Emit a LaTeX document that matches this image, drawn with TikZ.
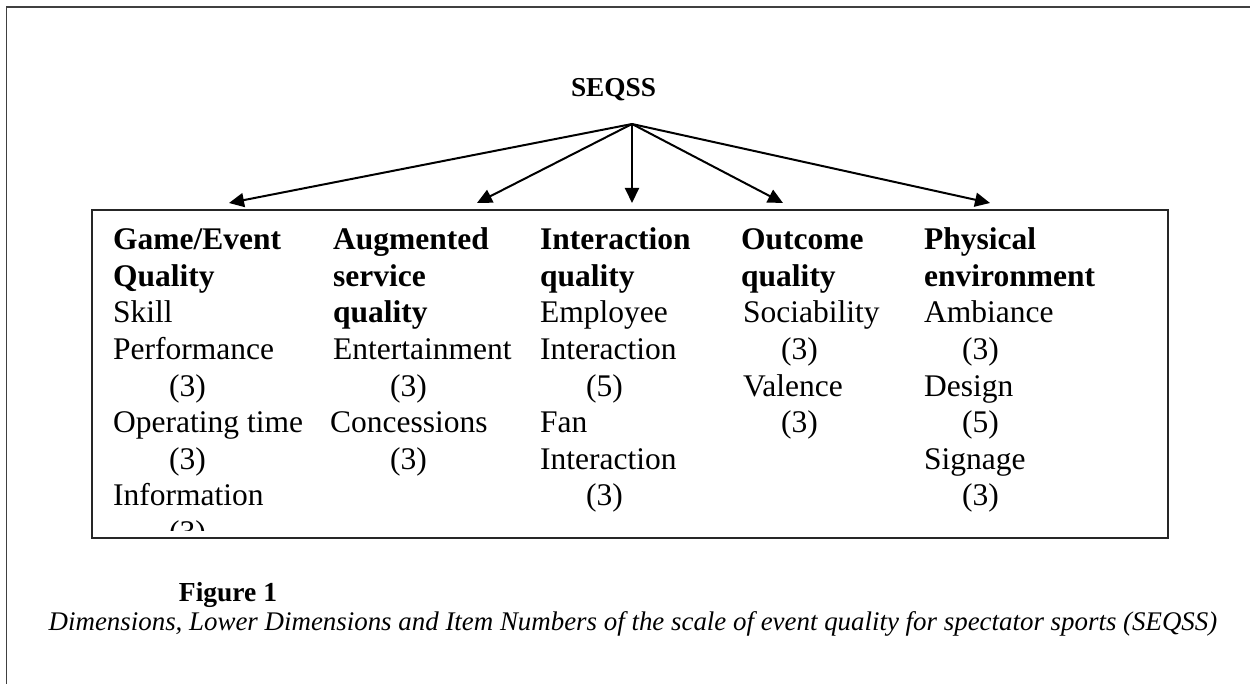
\documentclass[tikz,border=0pt]{standalone}
\usepackage{fontspec}
\setmainfont{Liberation Serif}
\usetikzlibrary{arrows.meta}
\newcommand{\bodyfont}{\fontsize{31.5}{36.5}\selectfont}
\newcommand{\capfont}[1]{\fontsize{#1}{#1}\selectfont}
\tikzset{item/.style = {anchor = base west, inner sep = 0, font = \bodyfont}}
\tikzset{feed/.style = {-{Triangle[length = 15pt, width = 14pt]}, line width = 2pt}}
\tikzset{frame/.style = {draw = black!75, line width = 1.5pt}}

\begin{document}
\begin{tikzpicture}[x = 1pt, y = -1pt]
    \useasboundingbox (0, 0) rectangle (1250, 684);
    \draw [frame] (6.5, 684) |- (1250, 7);

    \node [font = \capfont{27.3}\bfseries, anchor = base] (seqss) at (613.5, 97) {SEQSS};
    \coordinate (hub) at (632, 124);
    \coordinate (toGame) at (229, 203);
    \coordinate (toAug) at (477, 203);
    \coordinate (toInt) at (632, 203);
    \coordinate (toOut) at (783, 203);
    \coordinate (toPhys) at (990, 203);
    \foreach \to in {toGame, toAug, toInt, toOut, toPhys}
        \draw [feed] (hub) -- (\to);

    \node [draw = black!85, line width = 1.5pt, minimum width = 1076pt, minimum height = 328pt, inner sep = 0] (dims) at (630, 374) {};

    \begin{scope}
        \clip (dims.north west) rectangle ([yshift = 8pt] dims.south east);
        \foreach \dx/\txt [count = \i from 0] in {0/{\textbf{Game/Event}}, 0/{\textbf{Quality}}, 0/Skill, 0/Performance, 56/(3), 0/Operating time, 56/(3), 0/Information, 56/(3)}
            \node [item] (game\i) at (113 + \dx, 250 + 36.5 * \i) {\txt};
        \foreach \dx/\txt [count = \i from 0] in {0/{\textbf{Augmented}}, 0/{\textbf{service}}, 0/{\textbf{quality}}, 0/Entertainment, 57/(3), -3/Concessions, 57/(3)}
            \node [item] (aug\i) at (333 + \dx, 250 + 36.5 * \i) {\txt};
        \foreach \dx/\txt [count = \i from 0] in {0/{\textbf{Interaction}}, 0/{\textbf{quality}}, 0/Employee, 0/Interaction, 46/(5), 0/Fan, 0/Interaction, 46/(3)}
            \node [item] (int\i) at (540 + \dx, 250 + 36.5 * \i) {\txt};
        \foreach \dx/\txt [count = \i from 0] in {0/{\textbf{Outcome}}, 0/{\textbf{quality}}, 2/Sociability, 40/(3), 2/Valence, 40/(3)}
            \node [item] (out\i) at (741 + \dx, 250 + 36.5 * \i) {\txt};
        \foreach \dx/\txt [count = \i from 0] in {0/{\textbf{Physical}}, 0/{\textbf{environment}}, 0/Ambiance, 38/(3), 0/Design, 38/(5), 0/Signage, 38/(3)}
            \node [item] (phys\i) at (924 + \dx, 250 + 36.5 * \i) {\txt};
    \end{scope}

    \node [font = \capfont{27.5}\bfseries, anchor = base] (figlabel) at (228, 601) {Figure 1};
    \node [font = \capfont{26.9}\itshape, anchor = base] (figcaption) at (633, 630) {Dimensions, Lower Dimensions and Item Numbers of the scale of event quality for spectator sports (SEQSS)};
\end{tikzpicture}
\end{document}
